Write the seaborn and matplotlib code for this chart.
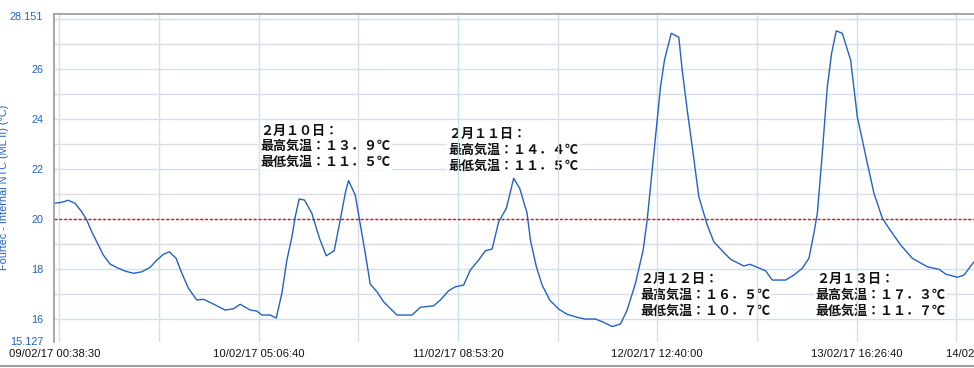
import numpy as np
import pandas as pd
import matplotlib
matplotlib.use("Agg")
import matplotlib.pyplot as plt
import seaborn as sns
from matplotlib.lines import Line2D

# ---------------- data ----------------
start_time = "2017-02-09 00:38:30"
end_time = "2017-02-14 11:14:30"

elapsed_hours = [
    0.00, 1.03, 1.95, 2.89, 3.82, 4.52, 5.22, 6.14, 6.83, 7.77, 8.92, 9.86,
    11.02, 12.19, 13.35, 14.28, 15.20, 16.04, 16.97, 17.77, 18.69, 19.86,
    20.78, 22.17, 23.80, 24.96, 25.90, 27.29, 28.22, 28.92, 30.08, 30.92,
    31.71, 32.41, 33.11, 33.57, 34.12, 34.86, 35.89, 36.95, 37.89, 39.00,
    39.84, 40.54, 41.00, 41.93, 42.53, 43.33, 44.02, 44.96, 45.88, 47.75,
    49.84, 51.00, 52.85, 53.79, 54.94, 55.88, 57.04, 57.97, 59.13, 60.06,
    61.00, 61.92, 62.99, 64.01, 64.85, 65.88, 66.34, 67.17, 67.97, 69.03,
    70.28, 71.45, 72.85, 74.00, 75.40, 76.56, 77.73, 78.89, 79.82, 80.98,
    82.05, 82.61, 83.31, 84.01, 84.47, 85.02, 85.96, 87.02, 87.49, 88.19,
    88.89, 89.81, 90.98, 91.90, 93.07, 94.23, 96.08, 96.92, 97.95, 99.11,
    100.04, 101.90, 103.05, 104.22, 105.15, 105.84, 106.32, 107.01, 107.71,
    108.31, 108.96, 109.80, 110.96, 111.89, 113.29, 114.21, 115.38, 116.30,
    117.93, 119.56, 121.65, 123.27, 124.20, 125.83, 126.75, 128.15,
]
temperatures = [
    20.64, 20.68, 20.76, 20.64, 20.30, 19.97, 19.50, 18.97, 18.57, 18.21, 18.04, 17.93,
    17.84, 17.90, 18.08, 18.37, 18.60, 18.70, 18.44, 17.84, 17.24, 16.77,
    16.80, 16.61, 16.37, 16.42, 16.60, 16.37, 16.33, 16.17, 16.17, 16.05,
    17.04, 18.37, 19.30, 20.10, 20.81, 20.77, 20.24, 19.24, 18.54, 18.74,
    19.97, 21.04, 21.55, 20.97, 19.97, 18.64, 17.41, 17.10, 16.70, 16.17,
    16.17, 16.48, 16.54, 16.77, 17.14, 17.30, 17.37, 17.97, 18.37, 18.74,
    18.81, 19.90, 20.44, 21.64, 21.24, 20.24, 19.17, 18.10, 17.37, 16.77,
    16.41, 16.20, 16.08, 16.01, 16.01, 15.88, 15.71, 15.81, 16.37, 17.44,
    18.77, 19.97, 21.97, 23.97, 25.30, 26.37, 27.44, 27.28, 25.97, 24.37,
    22.90, 20.90, 19.77, 19.10, 18.74, 18.40, 18.13, 18.20, 18.08, 17.94,
    17.57, 17.57, 17.77, 18.04, 18.44, 19.44, 20.24, 22.64, 25.30,
    26.64, 27.54, 27.44, 26.37, 24.10, 22.24, 21.04, 20.04, 19.64,
    18.97, 18.44, 18.10, 18.00, 17.81, 17.68, 17.77, 18.30,
]

x_tick_times = [
    "2017-02-09 00:38:30", "2017-02-09 01:20:00", "2017-02-10 05:06:40",
    "2017-02-11 08:53:20", "2017-02-12 12:40:00", "2017-02-13 16:26:40",
    "2017-02-14 11:14:30",
]
x_tick_labels = [
    "09/02/17 00:38:30", "", "10/02/17 05:06:40", "11/02/17 08:53:20",
    "12/02/17 12:40:00", "13/02/17 16:26:40", "14/02/17 11:14:30",
]
x_minor_times = [
    "2017-02-09 15:13:20", "2017-02-10 19:00:00", "2017-02-11 22:46:40",
    "2017-02-13 02:33:20", "2017-02-14 06:20:00",
]
y_major_ticks = [15.127, 16, 18, 20, 22, 24, 26, 28, 28.151]
y_major_labels = ["15.127", "16", "18", "20", "22", "24", "26", "", "28.151"]
y_minor_ticks = [17, 19, 21, 23, 25, 27]
y_limits = (15.107, 28.21)
threshold = 20
y_label = "Fourtec - Internal NTC (ML II) (°C)"

notes = [
    "２月１０日：\n最高気温：１３．９℃\n最低気温：１１．５℃",
    "２月１１日：\n最高気温：１４．４℃\n最低気温：１１．５℃",
    "２月１２日：\n最高気温：１６．５℃\n最低気温：１０．７℃",
    "２月１３日：\n最高気温：１７．３℃\n最低気温：１１．７℃",
]
# layout: (elapsed hours, temperature) of the left-centre of each note block
note_anchor_hours = [28.7, 54.9, 81.6, 106.1]
note_anchor_temps = [22.92, 22.77, 16.97, 16.97]

# ---------------- style ----------------
sns.set_style("white")
plt.rcParams["font.family"] = ["Liberation Sans", "DejaVu Sans"]

BLUE = "#2262c4"
GRID_MAJ = "#c4e4f4"
GRID_MIN = "#dcdce6"
SPINE = "#a0a0a0"

t0 = pd.Timestamp(start_time)
df = pd.DataFrame({
    "time": t0 + pd.to_timedelta(elapsed_hours, unit="h"),
    "temp": temperatures,
})

fig = plt.figure(figsize=(9.74, 3.68), dpi=100)
ax = fig.add_axes([0.05575, 0.0717, 0.9623, 0.8901])

sns.lineplot(data=df, x="time", y="temp", ax=ax, color=BLUE, linewidth=1.0,
             zorder=2, legend=False)
ax.axhline(threshold, color="#ff0000", lw=1.0, ls=(0, (2.0, 1.5)), zorder=1.8)

ax.set_xlim(t0, pd.Timestamp(end_time))
ax.set_ylim(*y_limits)

ax.set_xticks(pd.to_datetime(x_tick_times))
ax.set_xticklabels(x_tick_labels)
ax.set_xticks(pd.to_datetime(x_minor_times), minor=True)
ax.set_yticks(y_major_ticks)
ax.set_yticklabels(y_major_labels)
ax.set_yticks(y_minor_ticks, minor=True)

ax.set_xlabel("")
ax.set_ylabel("")

ax.grid(True, which="major", axis="both", color=GRID_MAJ, lw=1.0)
ax.grid(True, which="minor", axis="both", color=GRID_MIN, lw=1.0)

ax.tick_params(axis="y", which="major", length=4.3, width=1.0, color=BLUE,
               labelcolor=BLUE, labelsize=7.8, pad=3.5)
ax.tick_params(axis="y", which="minor", length=3.0, width=1.0, color=BLUE)
ax.tick_params(axis="x", which="major", length=3.6, width=0.8, color="#202020",
               labelcolor="#111111", labelsize=8.1, pad=1.5)
ax.tick_params(axis="x", which="minor", length=0)

# no grid lines at the axis-end ticks
yt = ax.yaxis.get_major_ticks()
yt[0].gridline.set_visible(False)
yt[-1].gridline.set_visible(False)
xt = ax.xaxis.get_major_ticks()
xt[0].gridline.set_visible(False)
xt[-1].gridline.set_visible(False)

for side in ["right", "bottom"]:
    ax.spines[side].set_visible(False)
for side in ["left", "top"]:
    ax.spines[side].set_color(SPINE)
    ax.spines[side].set_linewidth(1.3)

for txt, h, tv in zip(notes, note_anchor_hours, note_anchor_temps):
    ax.text(t0 + pd.Timedelta(hours=h), tv, txt, ha="left", va="center",
            fontsize=9.4, fontweight="bold", color="#111111",
            family=["Noto Sans CJK JP", "DejaVu Sans"], linespacing=1.15,
            zorder=1.0,
            bbox=dict(facecolor="white", edgecolor="none", pad=1.0))

# vertical grid drawn over note boxes, horizontal under
ax.yaxis.set_zorder(0.5)
ax.xaxis.set_zorder(1.5)

fig.text(0.004, 0.49, y_label, rotation=90, ha="center", va="center",
         color=BLUE, fontsize=7.8)

fig.add_artist(Line2D([0, 1], [1.6 / 368, 1.6 / 368], transform=fig.transFigure,
                      color=SPINE, lw=1.5))

fig.savefig("out.png", dpi=100)
